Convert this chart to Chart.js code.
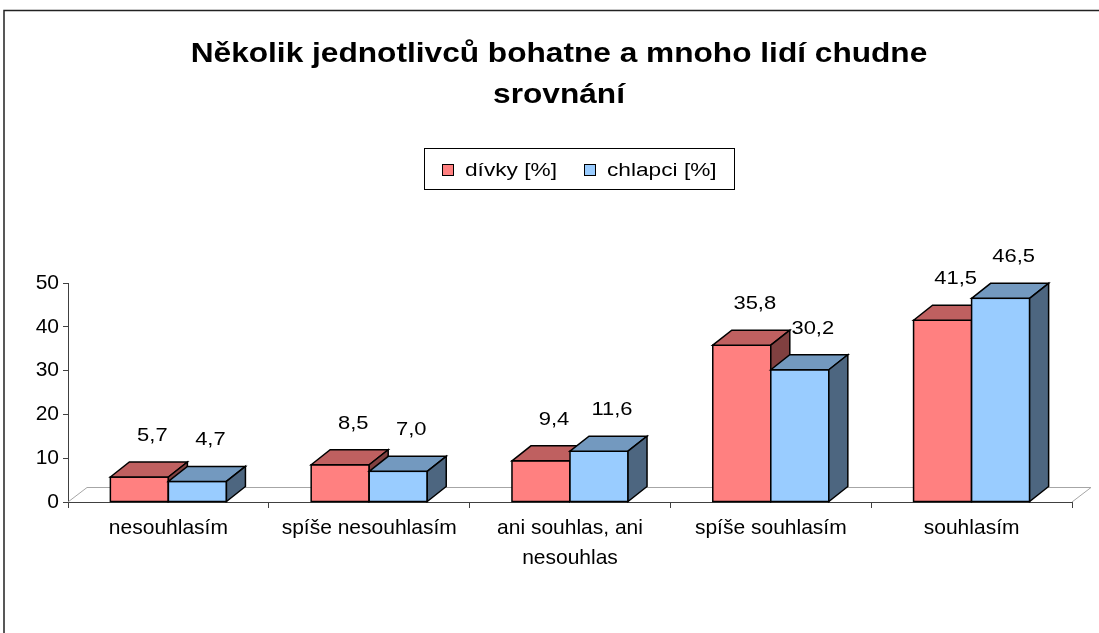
<!DOCTYPE html>
<html>
<head>
<meta charset="utf-8">
<script src="https://cdn.jsdelivr.net/npm/chart.js@4.4.1/dist/chart.umd.min.js"></script>
<style>
  body { margin: 0; background: #fff; }
  canvas { display: block; }
</style>
</head>
<body>
<canvas id="chart" width="1099" height="633"></canvas>
<script>
// data
const categories = [
  ['nesouhlasím'],
  ['spíše nesouhlasím'],
  ['ani souhlas, ani', 'nesouhlas'],
  ['spíše souhlasím'],
  ['souhlasím'],
];
const divky = [5.7, 8.5, 9.4, 35.8, 41.5];
const chlapci = [4.7, 7.0, 11.6, 30.2, 46.5];
const seriesNames = ['dívky [%]', 'chlapci [%]'];
const titleLines = ['Několik jednotlivců bohatne a mnoho lidí chudne', 'srovnání'];
const yMax = 50;
const yStep = 10;

const FONT = '"Liberation Sans", Arial, sans-serif';
// front / top / side colours of the 3d columns
const faces = [
  { front: '#FF8080', top: '#BF6060', side: '#804040' },
  { front: '#99CCFF', top: '#7399BF', side: '#4D6680' },
];
const depth = { dx: 19, dy: 15 };

// the original excel picture is stretched sideways, so text is too
function wideText(ctx, text, x, y, align, sx) {
  ctx.save();
  ctx.translate(x, y);
  ctx.scale(sx, 1);
  ctx.textAlign = align;
  ctx.fillText(text, 0, 0);
  ctx.restore();
}

const frame = {
  id: 'frame',
  afterDraw(chart) {
    const ctx = chart.ctx;
    ctx.save();
    ctx.strokeStyle = '#222';
    ctx.lineWidth = 1.5;
    ctx.strokeRect(4, 10.5, 2000, 2000);
    ctx.restore();
  },
};

const bar3d = {
  id: 'bar3d',
  beforeDatasetsDraw(chart) {
    const { ctx, chartArea: a } = chart;
    const { dx, dy } = depth;
    ctx.save();
    // floor
    ctx.strokeStyle = '#a6a6a6';
    ctx.lineWidth = 1;
    ctx.beginPath();
    ctx.moveTo(a.left, a.bottom);
    ctx.lineTo(a.left + dx, a.bottom - dy + 0.5);
    ctx.lineTo(a.right + dx, a.bottom - dy + 0.5);
    ctx.lineTo(a.right, a.bottom);
    ctx.stroke();

    ctx.strokeStyle = '#000';
    ctx.lineWidth = 1.5;
    ctx.lineJoin = 'miter';
    const metas = chart.data.datasets.map((d, i) => chart.getDatasetMeta(i));
    for (let j = 0; j < categories.length; j++) {
      metas.forEach((meta, i) => {
        const el = meta.data[j];
        const c = faces[i];
        const l = el.x - el.width / 2, r = el.x + el.width / 2;
        const t = el.y, b = el.base;
        // front
        ctx.fillStyle = c.front;
        ctx.fillRect(l, t, r - l, b - t);
        ctx.strokeRect(l, t, r - l, b - t);
        // top
        ctx.fillStyle = c.top;
        ctx.beginPath();
        ctx.moveTo(l, t);
        ctx.lineTo(l + dx, t - dy);
        ctx.lineTo(r + dx, t - dy);
        ctx.lineTo(r, t);
        ctx.closePath();
        ctx.fill();
        ctx.stroke();
        // side
        ctx.fillStyle = c.side;
        ctx.beginPath();
        ctx.moveTo(r, t);
        ctx.lineTo(r + dx, t - dy);
        ctx.lineTo(r + dx, b - dy);
        ctx.lineTo(r, b);
        ctx.closePath();
        ctx.fill();
        ctx.stroke();
      });
    }
    ctx.restore();
    return false;
  },
  afterDraw(chart) {
    const ctx = chart.ctx;
    ctx.save();
    // value labels
    ctx.fillStyle = '#000';
    ctx.font = '18px ' + FONT;
    ctx.textBaseline = 'middle';
    chart.data.datasets.forEach((ds, i) => {
      chart.getDatasetMeta(i).data.forEach((el, j) => {
        const txt = ds.data[j].toFixed(1).replace('.', ',');
        wideText(ctx, txt, el.x + 13, el.y - 41, 'center', 1.22);
      });
    });

    // title
    ctx.font = 'bold 28px ' + FONT;
    ctx.textBaseline = 'alphabetic';
    titleLines.forEach((line, k) => {
      wideText(ctx, line, 559, 62 + k * 41, 'center', 1.13);
    });

    // legend with a frame
    ctx.fillStyle = '#fff';
    ctx.fillRect(424, 148, 310, 41);
    ctx.strokeStyle = '#000';
    ctx.lineWidth = 1;
    ctx.strokeRect(424.5, 148.5, 310, 41);
    ctx.font = '18px ' + FONT;
    ctx.textBaseline = 'middle';
    const itemX = [442, 584];
    chart.data.datasets.forEach((ds, i) => {
      const x = itemX[i];
      ctx.fillStyle = faces[i].front;
      ctx.fillRect(x + 0.5, 164.5, 11, 11);
      ctx.strokeRect(x + 0.5, 164.5, 11, 11);
      ctx.fillStyle = '#000';
      wideText(ctx, ds.label, x + 23, 171, 'left', 1.26);
    });
    ctx.restore();
  },
};

new Chart(document.getElementById('chart'), {
  type: 'bar',
  data: {
    labels: categories,
    datasets: [
      { label: seriesNames[0], data: divky, backgroundColor: faces[0].front },
      { label: seriesNames[1], data: chlapci, backgroundColor: faces[1].front },
    ],
  },
  options: {
    responsive: false,
    animation: false,
    layout: { padding: { left: 18, right: 27, top: 283, bottom: 31 } },
    datasets: {
      bar: { categoryPercentage: 0.578, barPercentage: 1 },
    },
    plugins: {
      legend: { display: false },
      title: { display: false },
      tooltip: { enabled: false },
    },
    scales: {
      x: {
        grid: { drawOnChartArea: false, tickLength: 6, color: '#404040', offset: true },
        border: { color: '#404040', width: 1 },
        ticks: {
          color: '#000',
          font: { family: FONT, size: 21, lineHeight: 1.45 },
          padding: 5,
          maxRotation: 0,
          autoSkip: false,
        },
        afterFit(scale) { scale.height = 100; },
      },
      y: {
        min: 0,
        max: yMax,
        grid: { drawOnChartArea: false, tickLength: 5, color: '#404040' },
        border: { color: '#404040', width: 1 },
        ticks: {
          stepSize: yStep,
          color: '#000',
          font: { family: FONT, size: 21 },
          padding: 4,
        },
        afterFit(scale) { scale.width = 50; },
      },
    },
  },
  plugins: [bar3d, frame],
});
</script>
</body>
</html>
